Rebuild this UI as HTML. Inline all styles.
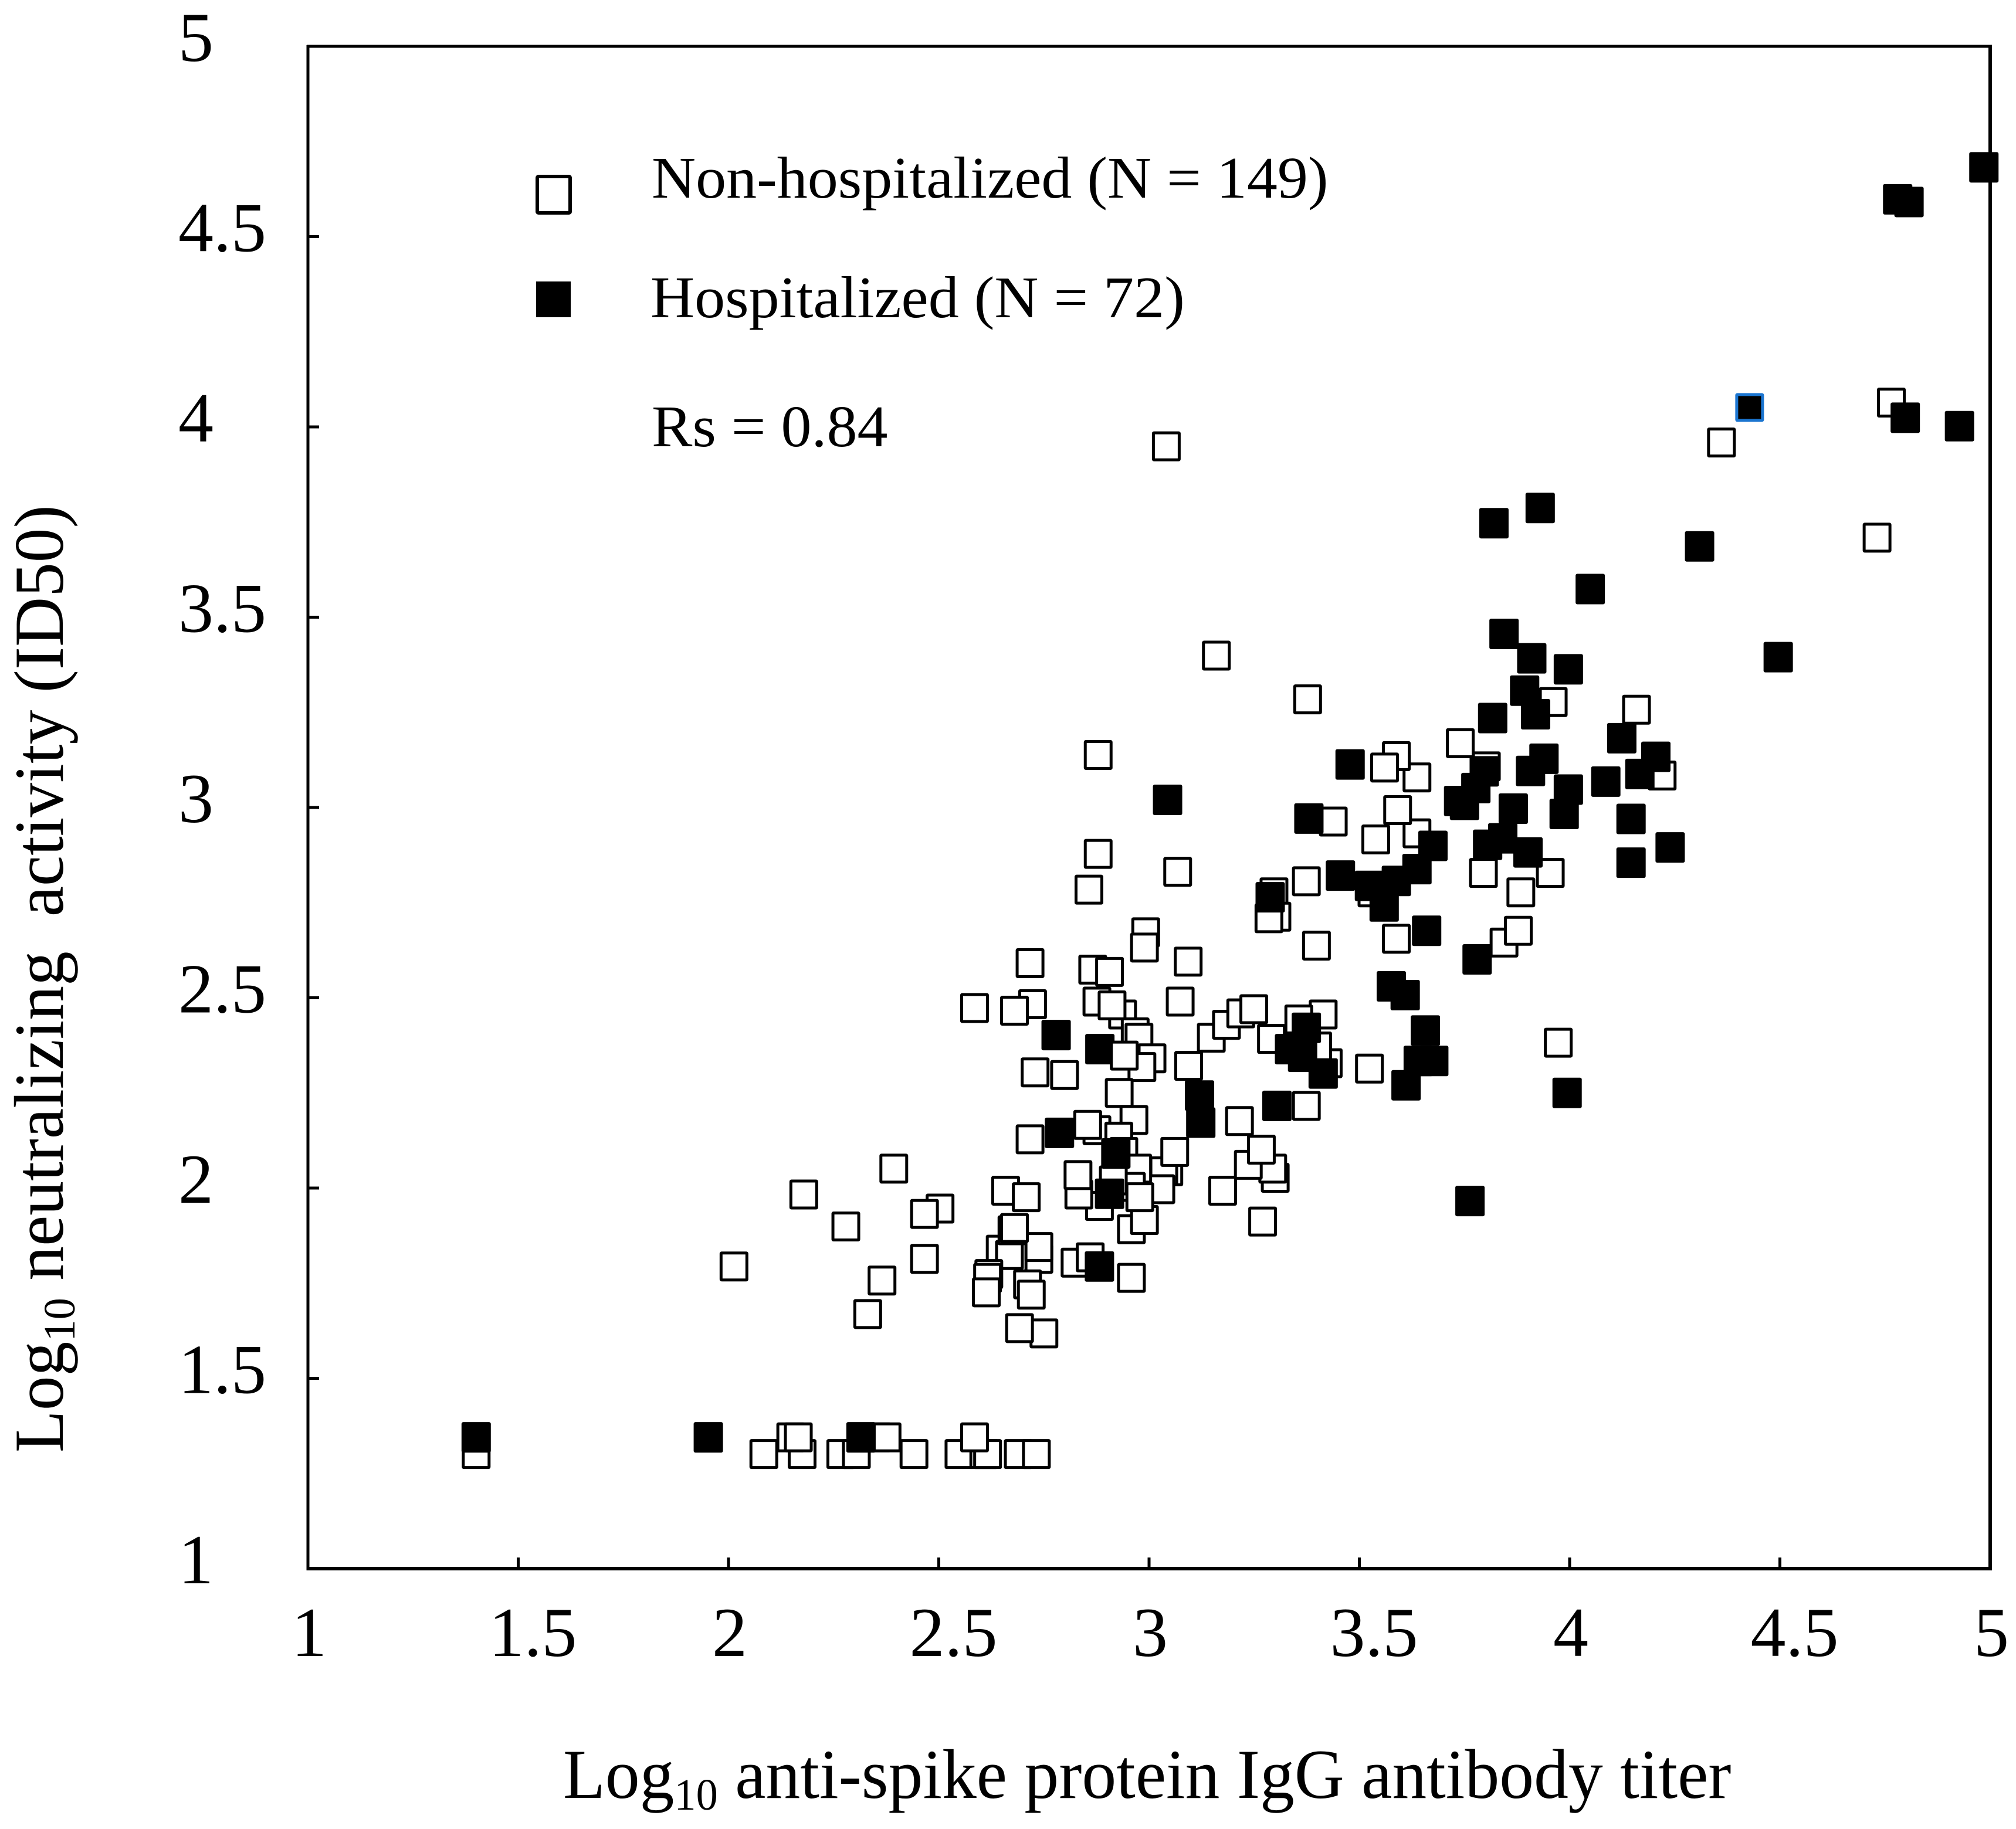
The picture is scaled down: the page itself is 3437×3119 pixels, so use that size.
<!DOCTYPE html>
<html lang="en">
<head>
<meta charset="utf-8">
<title>Neutralizing activity vs anti-spike IgG titer</title>
<style>
html,body{margin:0;padding:0;background:#fff;}
svg{display:block;}
text{font-family:"Liberation Serif",serif;fill:#000;}
</style>
</head>
<body>
<svg id="chart" xmlns="http://www.w3.org/2000/svg" width="3437" height="3119" viewBox="0 0 3437 3119">
  <rect x="0" y="0" width="3437" height="3119" fill="#fff"/>
  <g id="marks"></g>
  <g id="frame" stroke="#000" fill="none">
    <line x1="523" y1="79" x2="3396" y2="79" stroke-width="5"/>
    <line x1="525" y1="77" x2="525" y2="2678" stroke-width="5"/>
    <line x1="3393" y1="77" x2="3393" y2="2678" stroke-width="6"/>
    <line x1="523" y1="2675" x2="3396" y2="2675" stroke-width="6"/>
  </g>
  <g id="ticks" stroke="#000" stroke-width="5"></g>
  <g id="tick-labels" font-size="120"></g>

  <g>
    <rect x="916" y="301" width="56" height="62" fill="#fff" stroke="#000" stroke-width="6" rx="2"/>
    <rect x="914" y="480" width="59" height="61" fill="#000"/>
    <text transform="translate(1111,337) scale(1.03,1)" font-size="101">Non-hospitalized (N = 149)</text>
    <text transform="translate(1109,541) scale(1.03,1)" font-size="101">Hospitalized (N = 72)</text>
    <text transform="translate(1111,761) scale(1.03,1)" font-size="101">Rs = 0.84</text>
  </g>

  <text transform="translate(960,3066) scale(0.98,1)" font-size="120">Log<tspan font-size="76" dy="20">10</tspan><tspan dy="-20"> anti-spike protein IgG antibody titer</tspan></text>
  <text transform="translate(107,2477) rotate(-90) scale(0.98,1)" font-size="120" xml:space="preserve">Log<tspan font-size="76" dy="20">10</tspan><tspan dy="-20" xml:space="preserve"> neutralizing  activity (ID50)</tspan></text>
</svg>
<script>
const xTickValues = [1.5, 2, 2.5, 3, 3.5, 4, 4.5];
const yTickValues = [1.5, 2, 2.5, 3, 3.5, 4, 4.5];
const xTickLabels = ["1", "1.5", "2", "2.5", "3", "3.5", "4", "4.5", "5"];
const yTickLabels = ["1", "1.5", "2", "2.5", "3", "3.5", "4", "4.5", "5"];

const hospitalizedX = [4.985,4.78,4.807,4.428,4.798,4.927,3.82,3.93,4.309,4.049,4.496,3.844,3.91,3.997,3.893,3.919,3.817,4.124,4.205,3.939,3.907,4.086,4.167,3.997,3.797,3.777,3.736,3.75,3.866,3.987,4.146,3.38,3.044,3.478,3.841,3.805,3.901,3.675,4.239,4.146,3.637,3.455,3.588,3.524,3.559,3.288,3.66,3.78,3.576,3.609,3.657,3.374,2.779,2.883,3.334,3.365,3.414,3.64,3.677,3.611,3.994,3.12,3.123,3.304,2.787,2.921,2.906,3.763,2.882,1.4,1.952,2.315];
const hospitalizedY = [4.682,4.598,4.591,4.051,4.024,4.002,3.747,3.787,3.686,3.574,3.395,3.456,3.392,3.363,3.307,3.245,3.235,3.182,3.133,3.128,3.096,3.068,3.088,3.047,3.095,3.051,3.017,3.007,2.997,2.983,2.97,2.971,3.02,3.113,2.919,2.902,2.882,2.899,2.895,2.855,2.838,2.821,2.807,2.794,2.74,2.764,2.676,2.601,2.53,2.507,2.414,2.421,2.402,2.365,2.365,2.345,2.301,2.334,2.334,2.27,2.25,2.243,2.172,2.216,2.145,2.091,1.985,1.966,1.794,1.345,1.345,1.345];
const highlightedHospitalizedIndex = 3;

const nonHospitalizedBackX = [1.4,2.084,2.175,2.267,2.304,2.441,2.548,2.607,2.616,2.689,2.732,2.148,2.166,2.353,2.377,2.585,2.393,2.179,2.279,2.503,2.466,2.013,2.466,2.365,2.331,2.659,2.708,2.646,2.668,2.738,2.738,2.674,2.68,2.619,2.616,2.613,2.711,2.72,2.75,2.692,2.992,2.989,3.093,2.717,2.866,2.906,2.723,2.68,2.585,3.074,2.876,2.937,2.912,2.967,2.976,3.007,2.983,2.729,2.799,2.929,2.964,2.717,2.876,2.928,2.94,3.148,3.184,3.218,3.249,3.094,3.215,3.3,3.294,3.236,3.267,3.175,3.047,3.035,3.028,2.973,3.061,2.958,2.915,2.882,2.958,2.989,2.824,2.86,2.958,3.27,3.374,3.524,3.414,3.356,3.426,3.401,3.291,2.879,3.068,2.857,2.879,3.16,3.041,3.377,3.374,3.297,3.304,3.285,3.398,3.539,3.637,3.438,3.591,3.637,3.588,3.56,3.802,3.74,3.961,4.159,4.22,3.954,3.844,3.878,3.53,4.361,4.765,4.731,3.973];
const nonHospitalizedBackY = [1.301,1.301,1.301,1.301,1.301,1.301,1.301,1.301,1.301,1.301,1.301,1.345,1.345,1.345,1.345,1.345,2.051,1.983,1.899,1.946,1.932,1.794,1.814,1.757,1.669,1.993,1.976,1.838,1.824,1.814,1.845,1.889,1.895,1.774,1.764,1.726,1.747,1.72,1.618,1.632,2.672,2.632,2.595,2.591,2.574,2.568,2.483,2.466,2.473,2.49,2.49,2.456,2.48,2.409,2.395,2.341,2.318,2.304,2.297,2.25,2.179,2.128,2.152,2.135,2.095,2.395,2.429,2.459,2.47,2.321,2.176,2.027,2.051,2.061,2.101,1.993,2.044,2.044,1.997,2.051,2.095,2.003,2.02,1.953,1.892,1.916,1.804,1.818,1.764,1.912,2.216,2.314,2.456,2.443,2.328,2.372,2.392,2.878,2.831,2.784,3.138,3.399,3.949,3.284,2.806,2.777,2.713,2.709,2.637,2.916,2.932,2.963,2.993,3.079,3.135,3.105,3.108,3.169,3.277,3.257,3.084,2.828,2.645,2.676,2.777,3.959,4.064,3.709,2.382];

const nonHospitalizedFrontX = [2.854,2.941,3.795,3.884,3.588,2.833,2.831,2.978];
const nonHospitalizedFrontY = [2.166,2.348,2.828,2.777,2.655,1.983,2.034,1.976];

const SVG_NS = "http://www.w3.org/2000/svg";
const plotLeft = 525, plotRight = 3393, plotTop = 79, plotBottom = 2675;
const tickLength = 19;

function xScale(v) { return plotLeft + (v - 1) / 4 * (plotRight - plotLeft); }
function yScale(v) { return plotBottom - (v - 1) / 4 * (plotBottom - plotTop); }

const marks = document.getElementById("marks");
const ticks = document.getElementById("ticks");
const tickLabels = document.getElementById("tick-labels");

function addOpenMarker(xv, yv) {
  const r = document.createElementNS(SVG_NS, "rect");
  r.setAttribute("x", xScale(xv) - 22);
  r.setAttribute("y", yScale(yv) - 23);
  r.setAttribute("width", 44);
  r.setAttribute("height", 46);
  r.setAttribute("rx", 1);
  r.setAttribute("fill", "#fff");
  r.setAttribute("stroke", "#000");
  r.setAttribute("stroke-width", 5);
  
  
  marks.appendChild(r);
}

function addFilledMarker(xv, yv, highlighted) {
  const r = document.createElementNS(SVG_NS, "rect");
  r.setAttribute("x", xScale(xv) - 25);
  r.setAttribute("y", yScale(yv) - 26);
  r.setAttribute("width", 50);
  r.setAttribute("height", 52);
  r.setAttribute("rx", 3);
  r.setAttribute("fill", "#000");
  if (highlighted) {
    r.setAttribute("x", xScale(xv) - 22);
    r.setAttribute("y", yScale(yv) - 22);
    r.setAttribute("width", 44);
    r.setAttribute("height", 44);
    r.setAttribute("rx", 1);
    r.setAttribute("stroke", "#1b75d0");
    r.setAttribute("stroke-width", 5);
  }
  
  
  marks.appendChild(r);
}

nonHospitalizedBackX.forEach(function (x, i) { addOpenMarker(x, nonHospitalizedBackY[i]); });
hospitalizedX.forEach(function (x, i) { addFilledMarker(x, hospitalizedY[i], i === highlightedHospitalizedIndex); });
nonHospitalizedFrontX.forEach(function (x, i) { addOpenMarker(x, nonHospitalizedFrontY[i]); });

xTickValues.forEach(function (v) {
  const l = document.createElementNS(SVG_NS, "line");
  l.setAttribute("x1", xScale(v));
  l.setAttribute("x2", xScale(v));
  l.setAttribute("y1", plotBottom);
  l.setAttribute("y2", plotBottom - tickLength);
  
  
  ticks.appendChild(l);
});

yTickValues.forEach(function (v) {
  const l = document.createElementNS(SVG_NS, "line");
  l.setAttribute("x1", plotLeft);
  l.setAttribute("x2", plotLeft + tickLength);
  l.setAttribute("y1", yScale(v));
  l.setAttribute("y2", yScale(v));
  
  
  ticks.appendChild(l);
});

xTickLabels.forEach(function (label) {
  const t = document.createElementNS(SVG_NS, "text");
  const isHalf = label.indexOf(".") >= 0;
  t.setAttribute("x", xScale(parseFloat(label)) + (isHalf ? 25 : 2));
  t.setAttribute("y", 2824);
  t.setAttribute("text-anchor", "middle");
  t.textContent = label;
  
  
  tickLabels.appendChild(t);
});

yTickLabels.forEach(function (label) {
  const t = document.createElementNS(SVG_NS, "text");
  t.setAttribute("x", 304);
  t.setAttribute("y", yScale(parseFloat(label)) + 25);
  t.textContent = label;
  
  
  tickLabels.appendChild(t);
});
</script>
</body>
</html>
